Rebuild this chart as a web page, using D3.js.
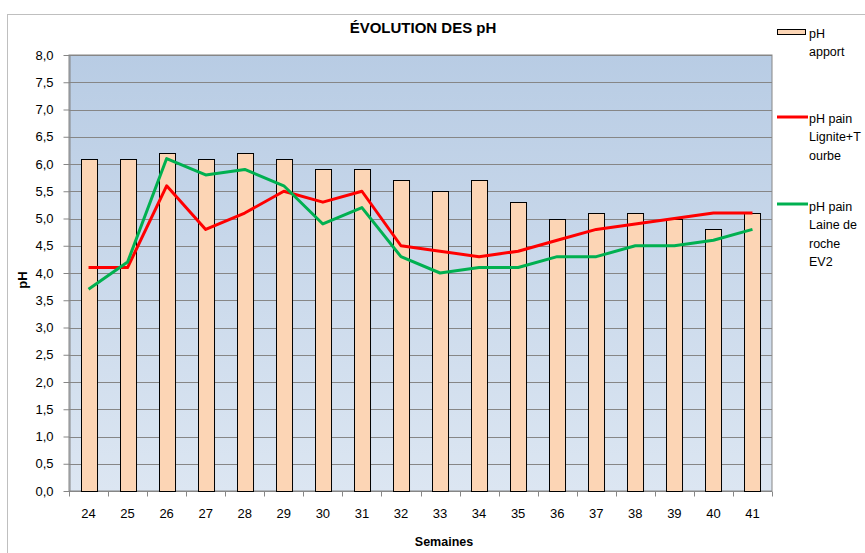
<!DOCTYPE html>
<html>
<head>
<meta charset="utf-8">
<script src="https://cdn.jsdelivr.net/npm/d3@7"></script>
<style>
  html, body { margin: 0; padding: 0; background: #fff; }
  svg { display: block; font-family: "Liberation Sans", Arial, sans-serif; }
</style>
</head>
<body>
<div id="chart"></div>
<script>
const weeks = ["24","25","26","27","28","29","30","31","32","33","34","35","36","37","38","39","40","41"];
const phApport = [6.1,6.1,6.2,6.1,6.2,6.1,5.9,5.9,5.7,5.5,5.7,5.3,5.0,5.1,5.1,5.0,4.8,5.1];
const phLignite = [4.1,4.1,5.6,4.8,5.1,5.5,5.3,5.5,4.5,4.4,4.3,4.4,4.6,4.8,4.9,5.0,5.1,5.1];
const phLaine = [3.7,4.2,6.1,5.8,5.9,5.6,4.9,5.2,4.3,4.0,4.1,4.1,4.3,4.3,4.5,4.5,4.6,4.8];
const yTicks = [0,0.5,1,1.5,2,2.5,3,3.5,4,4.5,5,5.5,6,6.5,7,7.5,8];

const width = 865, height = 553;
const margin = { top: 55, right: 93, bottom: 62, left: 69 };
const fmt = v => d3.format(".1f")(v).replace(".", ",");

const svg = d3.select("#chart").append("svg")
    .attr("width", width)
    .attr("height", height);

// chart frame
svg.append("rect")
    .attr("x", 7.5).attr("y", 14.5)
    .attr("width", 870).attr("height", 560)
    .attr("fill", "#fff")
    .attr("stroke", "#bfbfbf");

const x = d3.scaleBand()
    .domain(weeks)
    .range([margin.left, width - margin.right])
    .paddingInner(0.59)
    .paddingOuter(0.295);

const xc = d3.scalePoint()
    .domain(weeks)
    .range([margin.left, width - margin.right])
    .padding(0.5);

const y = d3.scaleLinear()
    .domain([0, 8])
    .range([height - margin.bottom, margin.top]);

// plot background gradient
const grad = svg.append("defs").append("linearGradient")
    .attr("id", "bg").attr("x1", 0).attr("y1", 0).attr("x2", 0).attr("y2", 1);
grad.append("stop").attr("offset", "0%").attr("stop-color", "#b8cce4");
grad.append("stop").attr("offset", "100%").attr("stop-color", "#dce6f2");

svg.append("rect")
    .attr("x", margin.left).attr("y", margin.top)
    .attr("width", width - margin.right - margin.left)
    .attr("height", height - margin.bottom - margin.top)
    .attr("fill", "url(#bg)")
    .attr("stroke", "#868686");

// gridlines
svg.append("g")
    .selectAll("line")
    .data(yTicks.slice(1))
    .join("line")
    .attr("x1", margin.left).attr("x2", width - margin.right)
    .attr("y1", d => Math.round(y(d)) + 0.5).attr("y2", d => Math.round(y(d)) + 0.5)
    .attr("stroke", "#868686");

// y axis
const yAxisG = svg.append("g")
    .attr("transform", `translate(${margin.left + 0.5},0)`)
    .call(d3.axisLeft(y).tickValues(yTicks).tickFormat(fmt).tickSize(6).tickSizeOuter(0).tickPadding(10));
yAxisG.select(".domain").attr("stroke", "#868686");
yAxisG.selectAll(".tick line").attr("stroke", "#868686");
yAxisG.selectAll("text").attr("font-size", "13px").attr("fill", "#000");

// x axis with ticks on band boundaries
const xAxisG = svg.append("g")
    .attr("transform", `translate(0,${height - margin.bottom + 0.5})`);
xAxisG.append("line")
    .attr("x1", margin.left).attr("x2", width - margin.right)
    .attr("stroke", "#868686");
const step = x.step();
xAxisG.selectAll("line.tk")
    .data(d3.range(weeks.length + 1))
    .join("line")
    .attr("class", "tk")
    .attr("x1", i => Math.round(margin.left + i * step) + 0.5)
    .attr("x2", i => Math.round(margin.left + i * step) + 0.5)
    .attr("y1", 0).attr("y2", 5)
    .attr("stroke", "#868686");
xAxisG.selectAll("text")
    .data(weeks)
    .join("text")
    .attr("x", d => xc(d))
    .attr("y", 26)
    .attr("text-anchor", "middle")
    .attr("font-size", "13px")
    .text(d => d);

// bars
svg.append("g")
    .selectAll("rect")
    .data(phApport)
    .join("rect")
    .attr("x", (d, i) => Math.round(x(weeks[i])) + 0.5)
    .attr("y", d => Math.round(y(d)) + 0.5)
    .attr("width", x.bandwidth())
    .attr("height", d => y(0) - Math.round(y(d)))
    .attr("fill", "#fcd5b5")
    .attr("stroke", "#000")
    .attr("stroke-width", 1);

// lines
const line = d3.line()
    .x((d, i) => xc(weeks[i]))
    .y(d => y(d));

svg.append("path")
    .datum(phLignite)
    .attr("d", line)
    .attr("fill", "none")
    .attr("stroke", "#ff0000")
    .attr("stroke-width", 3)
    .attr("stroke-linejoin", "round");

svg.append("path")
    .datum(phLaine)
    .attr("d", line)
    .attr("fill", "none")
    .attr("stroke", "#00b050")
    .attr("stroke-width", 3)
    .attr("stroke-linejoin", "round");

// title
svg.append("text")
    .attr("x", 423).attr("y", 33)
    .attr("text-anchor", "middle")
    .attr("font-size", "15px")
    .attr("font-weight", "bold")
    .text("ÉVOLUTION DES pH");

// axis titles
svg.append("text")
    .attr("transform", "translate(27,280) rotate(-90)")
    .attr("text-anchor", "middle")
    .attr("font-size", "13px")
    .attr("font-weight", "bold")
    .text("pH");

svg.append("text")
    .attr("x", 444).attr("y", 546)
    .attr("text-anchor", "middle")
    .attr("font-size", "12.5px")
    .attr("font-weight", "bold")
    .text("Semaines");

// legend
const legend = svg.append("g").attr("font-size", "12.5px");
legend.append("rect")
    .attr("x", 777.5).attr("y", 29.5)
    .attr("width", 28).attr("height", 5)
    .attr("fill", "#fcd5b5").attr("stroke", "#000");
const legendItems = [
    { type: "rect", lines: ["pH", "apport"], y: 38, ly: 0 },
    { type: "line", color: "#ff0000", lines: ["pH pain", "Lignite+T", "ourbe"], y: 123, ly: 117 },
    { type: "line", color: "#00b050", lines: ["pH pain", "Laine de", "roche", "EV2"], y: 211, ly: 204 }
];
legendItems.forEach(it => {
    if (it.type === "line") {
        legend.append("line")
            .attr("x1", 777).attr("x2", 808)
            .attr("y1", it.ly).attr("y2", it.ly)
            .attr("stroke", it.color).attr("stroke-width", 3);
    }
    it.lines.forEach((t, k) => {
        legend.append("text")
            .attr("x", 809)
            .attr("y", it.y + k * 18.3)
            .text(t);
    });
});
</script>
</body>
</html>
